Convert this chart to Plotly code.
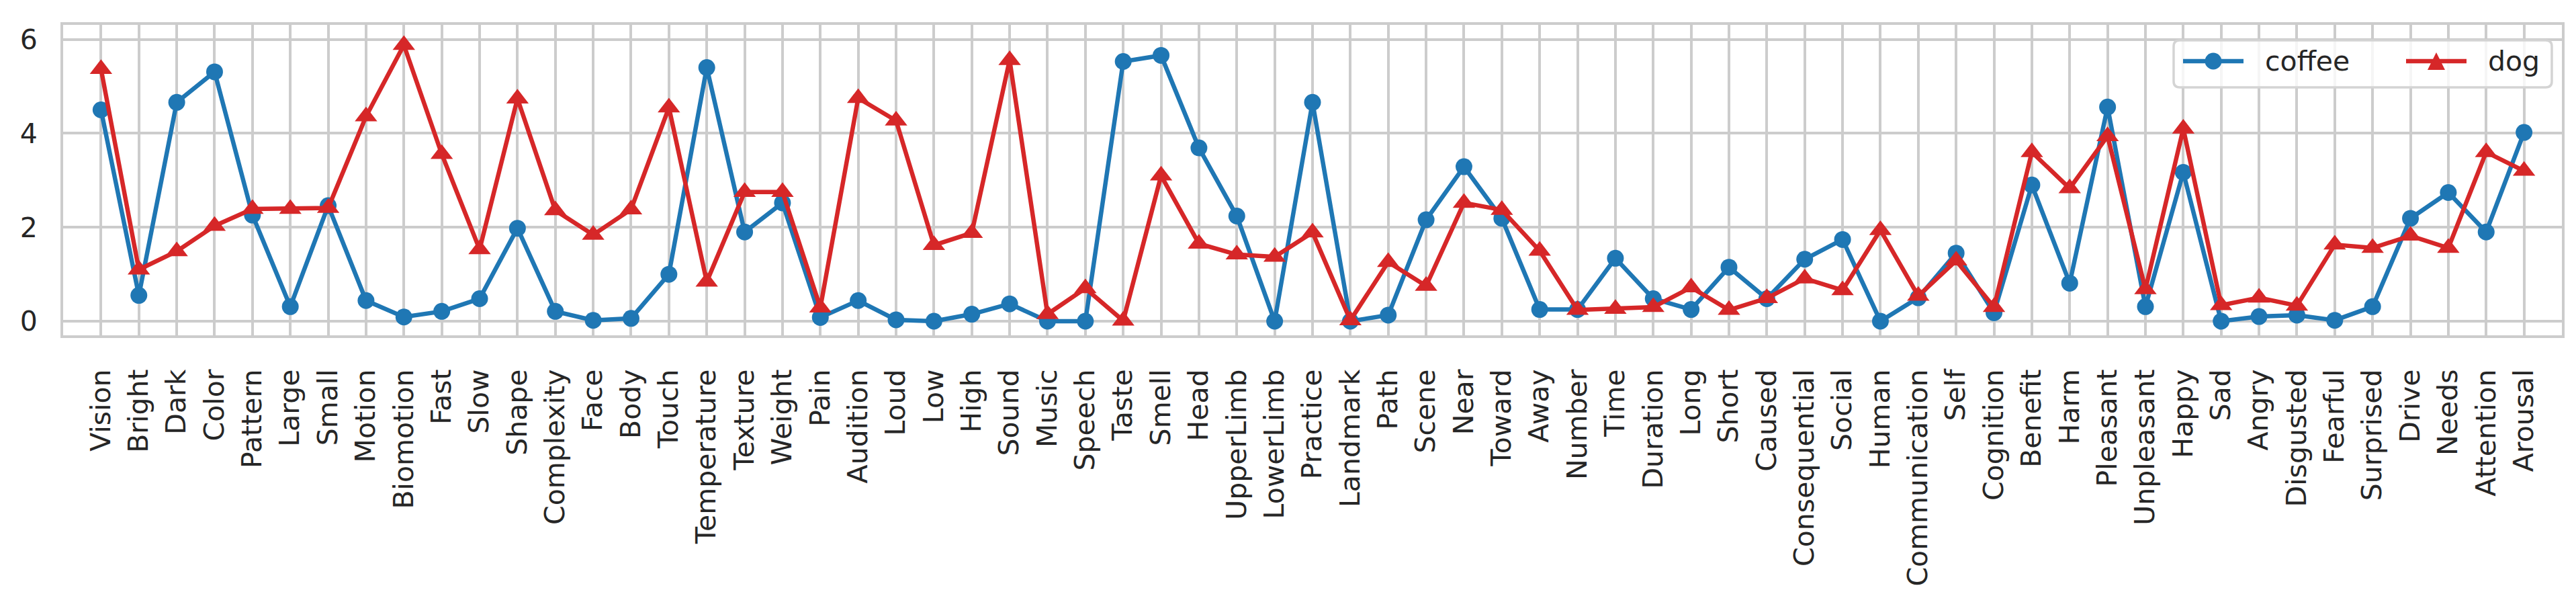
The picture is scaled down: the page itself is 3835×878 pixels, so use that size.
import plotly.graph_objects as go

categories = ["Vision", "Bright", "Dark", "Color", "Pattern", "Large", "Small", "Motion",
              "Biomotion", "Fast", "Slow", "Shape", "Complexity", "Face", "Body", "Touch",
              "Temperature", "Texture", "Weight", "Pain", "Audition", "Loud", "Low", "High",
              "Sound", "Music", "Speech", "Taste", "Smell", "Head", "UpperLimb", "LowerLimb",
              "Practice", "Landmark", "Path", "Scene", "Near", "Toward", "Away", "Number",
              "Time", "Duration", "Long", "Short", "Caused", "Consequential", "Social", "Human",
              "Communication", "Self", "Cognition", "Benefit", "Harm", "Pleasant", "Unpleasant",
              "Happy", "Sad", "Angry", "Disgusted", "Fearful", "Surprised", "Drive", "Needs",
              "Attention", "Arousal"]

coffee = [4.50, 0.55, 4.66, 5.31, 2.26, 0.31, 2.46, 0.44,
          0.09, 0.21, 0.48, 1.98, 0.21, 0.02, 0.06, 1.00,
          5.40, 1.90, 2.52, 0.08, 0.44, 0.03, 0.00, 0.15,
          0.37, 0.00, 0.00, 5.53, 5.66, 3.69, 2.24, 0.00,
          4.66, 0.00, 0.13, 2.16, 3.29, 2.19, 0.25, 0.25,
          1.34, 0.48, 0.25, 1.15, 0.48, 1.32, 1.74, 0.00,
          0.50, 1.45, 0.18, 2.90, 0.81, 4.56, 0.31,
          3.17, 0.00, 0.10, 0.13, 0.02, 0.31, 2.19, 2.74,
          1.90, 4.02]

dog = [5.37, 1.10, 1.49, 2.03, 2.39, 2.39, 2.41, 4.36,
       5.88, 3.56, 1.53, 4.74, 2.36, 1.84, 2.38, 4.55,
       0.84, 2.75, 2.75, 0.29, 4.75, 4.27, 1.62, 1.88,
       5.56, 0.15, 0.70, 0.01, 3.10, 1.65, 1.42, 1.37,
       1.89, 0.02, 1.26, 0.75, 2.52, 2.37, 1.50, 0.24,
       0.26, 0.30, 0.72, 0.24, 0.49, 0.91, 0.66, 1.94,
       0.54, 1.29, 0.30, 3.60, 2.83, 3.94, 0.68,
       4.10, 0.34, 0.50, 0.33, 1.63, 1.56, 1.82, 1.56,
       3.60, 3.20]

y_ticks = [0, 2, 4, 6]
series_names = ["coffee", "dog"]
series_colors = ["#1f77b4", "#d62728"]

FONT = "DejaVu Sans"
TXT = "#262626"
GRID = "#cccccc"

W, H = 3835, 878
ML, MR, MT, MB = 86, 29, 29, 387
PW, PH = W - ML - MR, H - MT - MB


def px_x(p):
    return (p - ML) / PW


def px_y(p):
    return (H - MB - p) / PH


fig = go.Figure()
fig.add_trace(go.Scatter(
    x=categories, y=coffee, name=series_names[0], mode="lines+markers",
    line=dict(color=series_colors[0], width=6.5),
    marker=dict(symbol="circle", size=25, color=series_colors[0]),
))
fig.add_trace(go.Scatter(
    x=categories, y=dog, name=series_names[1], mode="lines+markers",
    line=dict(color=series_colors[1], width=6.5),
    marker=dict(symbol="triangle-up", size=29, color=series_colors[1]),
))

# ---- legend drawn as decoration (matplotlib-like box) ----
shapes = []
annotations = []
bx0, bx1, by0, by1 = px_x(3228), px_x(3791), px_y(122), px_y(52)
rx, ry = 9 / PW, 9 / PH
box_path = (f"M{bx0+rx},{by0} L{bx1-rx},{by0} Q{bx1},{by0} {bx1},{by0+ry} "
            f"L{bx1},{by1-ry} Q{bx1},{by1} {bx1-rx},{by1} L{bx0+rx},{by1} "
            f"Q{bx0},{by1} {bx0},{by1-ry} L{bx0},{by0+ry} Q{bx0},{by0} {bx0+rx},{by0} Z")
shapes.append(dict(type="path", xref="paper", yref="paper", path=box_path,
                   fillcolor="rgba(255,255,255,0.8)", line=dict(color="#d4d4d4", width=3.5),
                   layer="above"))
ly = px_y(83)
item_starts = [3242, 3574]
for i, (nm, col) in enumerate(zip(series_names, series_colors)):
    s = item_starts[i]
    shapes.append(dict(type="line", xref="paper", yref="paper",
                       x0=px_x(s), x1=px_x(s + 90), y0=ly, y1=ly,
                       line=dict(color=col, width=6.5), layer="above"))
    cx = px_x(s + 45)
    if i == 0:
        shapes.append(dict(type="circle", xref="paper", yref="paper",
                           xsizemode="pixel", ysizemode="pixel", xanchor=cx, yanchor=ly,
                           x0=-12.5, x1=12.5, y0=-12.5, y1=12.5,
                           fillcolor=col, line=dict(width=0), layer="above"))
    else:
        shapes.append(dict(type="path", xref="paper", yref="paper",
                           xsizemode="pixel", ysizemode="pixel", xanchor=cx, yanchor=ly,
                           path="M-13,-13 L13,-13 L0,13 Z",
                           fillcolor=col, line=dict(width=0), layer="above"))
    annotations.append(dict(xref="paper", yref="paper", x=px_x(s + 120), y=ly,
                            xanchor="left", yanchor="middle", text=nm, showarrow=False,
                            font=dict(family=FONT, size=41, color=TXT)))

fig.update_layout(
    width=W, height=H,
    margin=dict(l=ML, r=MR, t=MT, b=MB, pad=0),
    paper_bgcolor="white", plot_bgcolor="white",
    font=dict(family=FONT, size=41, color=TXT),
    showlegend=False,
    shapes=shapes, annotations=annotations,
)
fig.update_xaxes(
    type="category", categoryorder="array", categoryarray=categories,
    range=[-1, len(categories)],
    tickmode="array", tickvals=categories, ticktext=categories,
    tickangle=-90, tickfont=dict(family=FONT, size=41, color=TXT),
    showgrid=True, gridcolor=GRID, gridwidth=3.5,
    showline=True, linecolor=GRID, linewidth=4, mirror=True,
    ticks="", ticklabelstandoff=30, zeroline=False,
)
fig.update_yaxes(
    range=[-0.3, 6.31], tickmode="array", tickvals=y_ticks,
    ticktext=[str(v) for v in y_ticks],
    tickfont=dict(family=FONT, size=41, color=TXT),
    showgrid=True, gridcolor=GRID, gridwidth=3.5,
    showline=True, linecolor=GRID, linewidth=4, mirror=True,
    ticks="", ticklabelstandoff=26, zeroline=False,
)

fig.write_html("out.html")
